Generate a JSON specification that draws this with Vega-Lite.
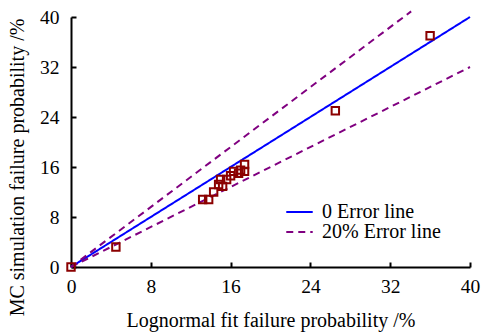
{
  "$schema": "https://vega.github.io/schema/vega-lite/v6.json",
  "autosize": "none",
  "width": 399,
  "height": 250,
  "padding": {"left": 71, "top": 17, "right": 11, "bottom": 65},
  "background": "white",
  "config": {
    "view": {"stroke": null},
    "font": "Liberation Serif",
    "axis": {
      "grid": false,
      "domainColor": "black",
      "domainWidth": 2,
      "tickColor": "black",
      "tickWidth": 2,
      "tickSize": -5,
      "labelFlush": false,
      "labelOverlap": false,
      "labelBound": false,
      "labelFont": "Liberation Serif",
      "labelFontSize": 19.5,
      "labelColor": "black",
      "titleFont": "Liberation Serif",
      "titleFontSize": 20,
      "titleFontWeight": "normal",
      "titleColor": "black"
    },
    "legend": {
      "labelFont": "Liberation Serif",
      "labelFontSize": 20,
      "labelColor": "black"
    }
  },
  "datasets": {
    "lines": [
      {"series": "0 Error line", "line": "zero", "x": 0, "y": 0},
      {"series": "0 Error line", "line": "zero", "x": 40, "y": 40},
      {"series": "20% Error line", "line": "upper", "x": 0, "y": 0},
      {"series": "20% Error line", "line": "upper", "x": 34.1, "y": 40.9},
      {"series": "20% Error line", "line": "lower", "x": 0, "y": 0},
      {"series": "20% Error line", "line": "lower", "x": 40, "y": 32}
    ],
    "points": [
      {"lognormal": 0, "mc": 0},
      {"lognormal": 4.5, "mc": 3.2},
      {"lognormal": 13.2, "mc": 10.8},
      {"lognormal": 13.8, "mc": 10.8},
      {"lognormal": 14.3, "mc": 12.0},
      {"lognormal": 14.8, "mc": 13.2},
      {"lognormal": 15.2, "mc": 12.9},
      {"lognormal": 15.0, "mc": 14.0},
      {"lognormal": 15.6, "mc": 14.0},
      {"lognormal": 16.0, "mc": 14.6},
      {"lognormal": 16.3, "mc": 15.3},
      {"lognormal": 16.8, "mc": 15.0},
      {"lognormal": 17.0, "mc": 15.5},
      {"lognormal": 17.4, "mc": 16.4},
      {"lognormal": 17.4, "mc": 15.3},
      {"lognormal": 26.5, "mc": 25.0},
      {"lognormal": 36.0, "mc": 37.0}
    ]
  },
  "layer": [
    {
      "data": {"name": "lines"},
      "mark": {"type": "line", "clip": false, "strokeWidth": 2},
      "encoding": {
        "x": {
          "field": "x", "type": "quantitative",
          "scale": {"domain": [0, 40], "nice": false},
          "axis": {"values": [0, 8, 16, 24, 32, 40], "title": "Lognormal fit failure probability /%", "labelPadding": 15, "titleY": 53, "titleBaseline": "middle"}
        },
        "y": {
          "field": "y", "type": "quantitative",
          "scale": {"domain": [0, 40], "nice": false},
          "axis": {"values": [0, 8, 16, 24, 32, 40], "title": "MC simulation failure probability /%", "labelPadding": 17, "titleY": 150, "titleX": -54, "titleBaseline": "middle"}
        },
        "detail": {"field": "line"},
        "color": {
          "field": "series", "type": "nominal",
          "scale": {"domain": ["0 Error line", "20% Error line"], "range": ["#0000FF", "#800080"]},
          "legend": {"title": null, "orient": "none", "legendX": 214, "legendY": 185, "symbolType": "stroke", "symbolSize": 700, "symbolStrokeWidth": 2, "rowPadding": 0, "clipHeight": 20, "labelOffset": 8}
        },
        "strokeDash": {
          "field": "series", "type": "nominal",
          "scale": {"domain": ["0 Error line", "20% Error line"], "range": [[1, 0], [7, 5]]},
          "legend": {"title": null, "orient": "none", "legendX": 214, "legendY": 185, "symbolType": "stroke", "symbolSize": 700, "symbolStrokeWidth": 2, "rowPadding": 0, "clipHeight": 20, "labelOffset": 8}
        }
      }
    },
    {
      "data": {"name": "points"},
      "mark": {"type": "point", "shape": "square", "filled": false, "stroke": "#8B0000", "strokeWidth": 2, "size": 55, "opacity": 1, "clip": false},
      "encoding": {
        "x": {"field": "lognormal", "type": "quantitative"},
        "y": {"field": "mc", "type": "quantitative"}
      }
    }
  ]
}
